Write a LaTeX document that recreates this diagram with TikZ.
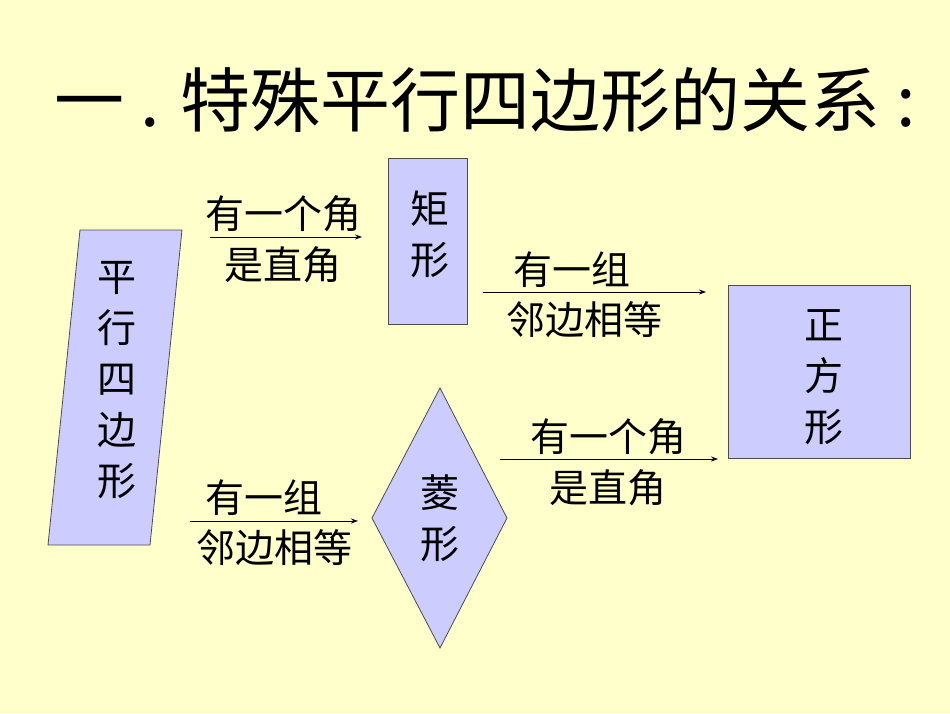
\documentclass[tikz,border=0pt]{standalone}
\usepackage{fontspec}
\newfontfamily\cjk{Noto Sans CJK SC}[FakeBold=0]
\usetikzlibrary{arrows.meta}
\definecolor{bg}{RGB}{255,255,204}
\definecolor{sh}{RGB}{204,204,255}
\begin{document}
\begin{tikzpicture}[x=1pt,y=-1pt,
  shp/.style={fill=sh,draw=black!70,line width=0.8pt},
  lab/.style={font=\cjk\fontsize{39}{39}\selectfont,inner sep=0pt},
  big/.style={font=\cjk\fontsize{39}{51}\selectfont,align=center,inner sep=0pt},
  arr/.style={-{Stealth[length=7pt,width=5pt]},line width=0.8pt}]
\fill[bg] (0,0) rectangle (950,713);
\useasboundingbox (0,0) rectangle (950,713);
\node[font=\cjk\fontsize{70}{70}\selectfont,inner sep=0pt] (title) at (485,100) {一 . 特殊平行四边形的关系 :};
\draw[shp] (80,230) -- (182,230) -- (150,545) -- (48,545) -- cycle;
\node[big] (p) at (117,380) {平\\行\\四\\边\\形};
\draw[shp] (388,158) rectangle (467,324);
\node[big] (r) at (430,234) {矩\\形};
\draw[shp] (728,285) rectangle (910,458);
\node[big] (s) at (824,377) {正\\方\\形};
\draw[shp] (440,388) -- (507,518) -- (440,648) -- (372,518) -- cycle;
\node[big] (d) at (440,518) {菱\\形};
\coordinate (a1) at (210,237); \coordinate (b1) at (362,237);
\draw[arr] (a1) -- (b1);
\node[lab] (t1) at (283,214) {有一个角};
\node[lab] (u1) at (283,265) {是直角};
\coordinate (a2) at (483,292); \coordinate (b2) at (706,292);
\draw[arr] (a2) -- (b2);
\node[lab] (t2) at (572,270) {有一组};
\node[lab] (u2) at (584,320) {邻边相等};
\coordinate (a3) at (190,521); \coordinate (b3) at (358,521);
\draw[arr] (a3) -- (b3);
\node[lab] (t3) at (264,498) {有一组};
\node[lab] (u3) at (274,548) {邻边相等};
\coordinate (a4) at (500,459); \coordinate (b4) at (718,459);
\draw[arr] (a4) -- (b4);
\node[lab] (t4) at (608,437) {有一个角};
\node[lab] (u4) at (608,488) {是直角};
\end{tikzpicture}
\end{document}
